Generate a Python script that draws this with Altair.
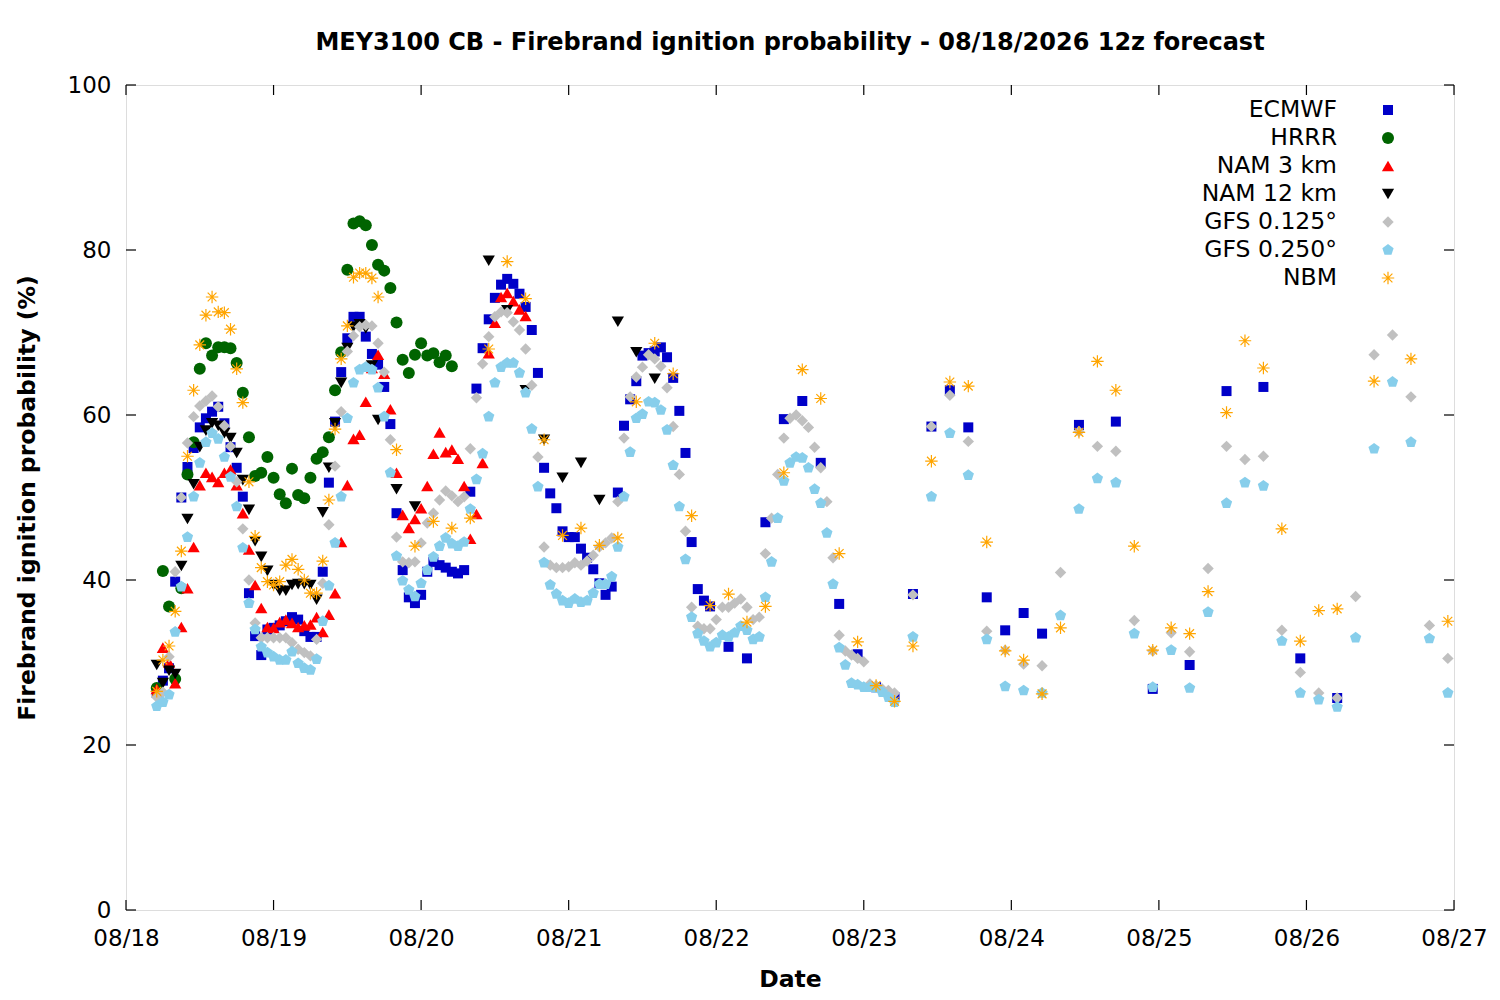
import json
import altair as alt
import pandas as pd

# ---------------- data ----------------
series_names = ["ECMWF", "HRRR", "NAM 3 km", "NAM 12 km", "GFS 0.125°", "GFS 0.250°", "NBM"]
day_labels = ["08/18", "08/19", "08/20", "08/21", "08/22", "08/23", "08/24", "08/25", "08/26", "08/27"]
x_tick_hours = [0, 24, 48, 72, 96, 120, 144, 168, 192, 216]
y_tick_values = [0, 20, 40, 60, 80, 100]

# hours after 08/18 00:00 (local)
ecmwf_hours = list(range(5, 96)) + list(range(98, 150, 3)) + list(range(155, 198, 6))
ecmwf_vals = [
    26.3, 27.8, 29.3, 39.8, 50.0, 53.7, 56.0, 58.5, 59.6, 60.4, 61.0, 59.0, 56.1, 53.6, 50.1,
    38.4, 33.2, 30.9, 34.0, 34.2, 34.5, 35.0, 35.5, 35.2, 33.8, 33.1, 33.1, 41.0, 51.8, 59.2,
    65.2, 69.3, 71.9, 71.9, 69.5, 67.4, 66.1, 63.4, 58.9, 48.1, 41.2, 37.9, 37.2, 38.2, 41.0,
    42.2, 41.8, 41.5, 41.0, 40.8, 41.2, 50.7, 63.2, 68.1, 71.6, 74.2, 75.8, 76.5, 75.9, 74.7,
    73.1, 70.3, 65.1, 53.6, 50.5, 48.7, 45.9, 45.2, 45.2, 43.8, 42.7, 41.3, 39.6, 38.2, 39.2,
    50.6, 58.7, 61.9, 64.1, 67.2, 67.5, 67.7, 68.2, 67.0, 64.5, 60.5, 55.4, 44.6, 38.9, 37.5,
    36.8,
    31.9, 30.5, 47.0, 59.5, 61.7, 54.2, 37.1, 31.0, 27.0, 25.8, 38.3, 58.6, 63.0, 58.5, 37.9,
    33.9, 36.0, 33.5,
    58.8, 59.2, 26.8, 29.7, 62.9, 63.4, 30.5, 25.7,
]

hrrr_hours = list(range(5, 54))
hrrr_vals = [
    26.9, 41.1, 36.8, 28.0, 39.0, 52.8, 56.7, 65.6, 68.7, 67.2, 68.2, 68.2, 68.1, 66.3, 62.7,
    57.3, 52.6, 53.0, 54.9, 52.4, 50.4, 49.3, 53.5, 50.3, 49.9, 52.4, 54.7, 55.5, 57.3, 63.0,
    67.6, 77.6, 83.2, 83.5, 83.0, 80.6, 78.2, 77.5, 75.4, 71.2, 66.7, 65.1, 67.3, 68.7, 67.2,
    67.5, 66.4, 67.2, 65.9,
]

nam3_hours = list(range(5, 66))
nam3_vals = [
    26.8, 31.8, 30.0, 27.5, 34.3, 39.0, 44.0, 51.5, 53.0, 52.5, 51.9, 53.0, 53.4, 51.5, 48.1,
    43.7, 39.4, 36.6, 34.3, 34.2, 34.9, 35.2, 34.8, 34.3, 34.5, 34.6, 35.5, 33.7, 35.8, 38.4,
    44.6, 51.5, 57.1, 57.6, 61.6, 65.7, 67.3, 65.0, 60.7, 53.0, 47.9, 46.3, 47.4, 48.7, 51.4,
    55.3, 57.9, 55.5, 55.8, 54.7, 51.4, 45.0, 48.0, 54.2, 67.5, 71.2, 74.3, 74.8, 73.8, 72.8,
    72.0,
]

nam12_hours = list(range(5, 42)) + [44, 47] + list(range(59, 87, 3))
nam12_vals = [
    29.7, 27.5, 29.0, 28.6, 41.7, 47.4, 51.6, 56.1, 58.1, 59.0, 58.7, 57.8, 57.2, 55.4, 52.1,
    48.5, 44.7, 42.8, 41.1, 39.4, 38.7, 38.7, 39.4, 39.5, 39.5, 39.4, 37.6, 48.2, 53.6, 59.0,
    63.9, 68.1, 70.7, 71.0, 70.5, 66.0, 59.4,
    51.0, 48.9,
    78.7, 72.7, 63.0, 57.0, 52.4, 54.2, 49.7, 71.3, 67.6, 64.4,
]

gfs125_hours = list(range(5, 126)) + list(range(128, 216, 3))
gfs125_vals = [
    25.8, 26.4, 30.7, 41.0, 50.0, 56.6, 59.8, 61.1, 61.7, 62.3, 61.0, 58.7, 56.2, 51.9, 46.2,
    40.0, 34.8, 33.0, 33.0, 33.0, 33.0, 33.0, 32.4, 31.6, 31.2, 30.8, 32.8, 39.6, 46.7, 53.8,
    60.4, 67.7, 69.6, 70.7, 70.9, 70.8, 68.7, 65.2, 57.0, 45.2, 42.2, 42.1, 42.2, 44.5, 46.9,
    48.1, 49.7, 50.8, 50.2, 49.5, 50.1, 55.9, 62.1, 66.2, 69.5, 71.9, 72.5, 72.4, 71.3, 70.3,
    68.0, 63.6, 54.9, 44.0, 41.8, 41.5, 41.5, 41.6, 42.1, 41.8, 42.3, 43.0, 44.0, 44.5, 45.1,
    49.5, 57.2, 62.2, 64.6, 65.8, 67.3, 66.8, 65.9, 63.3, 58.6, 52.8, 45.9, 36.7, 34.4, 34.1,
    34.1, 35.2, 36.7, 36.7, 37.2, 37.7, 36.7, 35.2, 35.5, 43.2, 47.5, 52.8, 57.2, 59.6, 60.0,
    59.3, 58.5, 56.1, 53.6, 49.5, 42.7, 33.3, 31.4, 30.9, 30.5, 30.1, 27.4, 27.2, 26.8, 26.6,
    26.3,
    38.2, 58.6, 62.4, 56.8, 33.8, 31.5, 29.8, 29.6, 40.9, 58.0, 56.2, 55.6, 35.1, 31.4, 33.6,
    31.3, 41.4, 56.2, 54.6, 55.0, 33.9, 28.8, 26.3, 25.7, 38.0, 67.3, 69.7, 62.2, 34.5, 30.5,
]

gfs250_hours = list(range(5, 126)) + list(range(128, 216, 3))
gfs250_vals = [
    24.7, 25.2, 26.1, 33.7, 39.2, 45.2, 50.1, 54.2, 56.7, 57.8, 57.1, 54.9, 52.5, 48.9, 43.9,
    37.2, 34.0, 31.9, 31.2, 30.7, 30.3, 30.3, 31.3, 29.9, 29.3, 29.1, 30.4, 35.0, 39.3, 44.5,
    50.1, 59.6, 63.9, 65.5, 65.8, 65.5, 63.3, 59.8, 53.0, 42.9, 39.9, 38.8, 38.0, 39.6, 41.2,
    42.8, 44.1, 45.1, 44.4, 44.1, 44.6, 48.6, 52.2, 55.3, 59.8, 63.9, 65.8, 66.3, 66.3, 65.1,
    62.7, 58.3, 51.3, 42.1, 39.4, 38.3, 37.5, 37.2, 37.7, 37.3, 37.5, 38.4, 39.5, 39.5, 40.4,
    44.0, 50.1, 55.5, 59.6, 60.1, 61.6, 61.5, 60.6, 58.2, 53.9, 48.9, 42.5, 35.5, 33.5, 32.6,
    31.9, 32.4, 33.3, 33.1, 33.6, 34.4, 33.9, 32.8, 33.1, 37.9, 42.2, 47.5, 52.0, 54.2, 54.9,
    54.8, 53.6, 51.0, 49.3, 45.7, 39.5, 31.8, 29.7, 27.5, 27.3, 27.0, 27.0, 26.9, 26.4, 25.8,
    25.2,
    33.1, 50.1, 57.8, 52.7, 32.8, 27.1, 26.6, 26.3, 35.7, 48.6, 52.3, 51.8, 33.5, 27.0, 31.5,
    26.9, 36.1, 49.3, 51.8, 51.4, 32.6, 26.3, 25.5, 24.6, 33.0, 55.9, 64.0, 56.7, 32.9, 26.3,
]

nbm_hours = list(range(5, 42)) + list(range(44, 198, 3)) + [203, 209, 215]
nbm_vals = [
    26.5, 30.3, 32.0, 36.2, 43.5, 55.0, 63.0, 68.5, 72.1, 74.3, 72.5, 72.4, 70.4, 65.6, 61.5,
    51.9, 45.3, 41.5, 39.8, 39.4, 39.8, 41.8, 42.5, 41.3, 40.0, 38.4, 38.4, 42.3, 49.7, 58.3,
    66.8, 70.8, 76.7, 77.2, 77.2, 76.6, 74.3,
    55.8, 44.1, 47.1, 46.3, 47.5, 68.0, 78.6, 74.1, 57.0, 45.4, 46.3, 44.2, 45.1, 61.6, 68.7,
    65.0, 47.8, 36.9, 38.3, 34.9, 36.8, 53.0, 65.5, 62.0, 43.2, 32.5, 27.2, 25.3, 32.0, 54.4,
    64.0, 63.5, 44.6, 31.4, 30.3, 26.2, 34.2, 57.9, 66.5, 63.0, 44.1, 31.5, 34.2, 33.5, 38.6,
    60.3, 69.0, 65.7, 46.2, 32.6, 36.3, 36.5,
    64.1, 66.8, 35.0,
]

# ---------------- styling ----------------
W, H = 1328, 825
FONT = "DejaVu Sans"
PENTAGON = "M0,-1L0.951,-0.309L0.588,0.809L-0.588,0.809L-0.951,-0.309Z"
STAR = "M-1,0L1,0M0,-1L0,1M-0.707,-0.707L0.707,0.707M-0.707,0.707L0.707,-0.707"

styles = [
    dict(shape="square", color="#0000c8", size=100, filled=True),
    dict(shape="circle", color="#006400", size=144, filled=True),
    dict(shape="triangle-up", color="#ff0000", size=150, filled=True),
    dict(shape="triangle-down", color="#000000", size=150, filled=True),
    dict(shape="diamond", color="#c0c0c0", size=130, filled=True),
    dict(shape=PENTAGON, color="#87ceeb", size=140, filled=True),
    dict(shape=STAR, color="#ffa500", size=155, filled=False),
]
series_data = [
    (ecmwf_hours, ecmwf_vals),
    (hrrr_hours, hrrr_vals),
    (nam3_hours, nam3_vals),
    (nam12_hours, nam12_vals),
    (gfs125_hours, gfs125_vals),
    (gfs250_hours, gfs250_vals),
    (nbm_hours, nbm_vals),
]

label_expr = json.dumps(day_labels) + "[round(datum.value / 24)]"
x_axis = alt.Axis(
    values=x_tick_hours, labelExpr=label_expr, ticks=False, tickSize=0, domain=False, grid=False,
    labelFont=FONT, labelFontSize=23, labelColor="black", labelPadding=17, labelFlush=False,
    labelOverlap=False, title="Date", titleFont=FONT, titleFontSize=23.5, titleFontWeight="bold",
    titleColor="black", titleBaseline="middle", titleY=69,
)
y_axis = alt.Axis(
    values=y_tick_values, ticks=False, tickSize=0, domain=False, grid=False,
    labelFont=FONT, labelFontSize=23, labelColor="black", labelPadding=15, labelFlush=False,
    title="Firebrand ignition probability (%)", titleFont=FONT, titleFontSize=23.5,
    titleFontWeight="bold", titleColor="black", titleBaseline="middle", titleX=-99,
)
x_enc = alt.X("h:Q", scale=alt.Scale(domain=[0, 216], nice=False, zero=False), axis=x_axis)
y_enc = alt.Y("v:Q", scale=alt.Scale(domain=[0, 100], nice=False), axis=y_axis)


def point_mark(chart, st):
    if st["filled"]:
        return chart.mark_point(shape=st["shape"], filled=True, color=st["color"],
                                size=st["size"], opacity=1, strokeWidth=0)
    return chart.mark_point(shape=st["shape"], filled=False, color=st["color"],
                            size=st["size"], opacity=1, strokeWidth=1.2)


layers = []
for (hrs, vals), st in zip(series_data, styles):
    df = pd.DataFrame({"h": hrs, "v": vals})
    layers.append(point_mark(alt.Chart(df), st).encode(x=x_enc, y=y_enc))

# inward ticks (gnuplot style, mirrored)
ydf = pd.DataFrame({"v": y_tick_values})
xdf = pd.DataFrame({"h": x_tick_hours})
TL = 10
layers.append(alt.Chart(ydf).mark_rule(color="black", strokeWidth=1.2).encode(
    y=y_enc, x=alt.value(0), x2=alt.value(TL)))
layers.append(alt.Chart(ydf).mark_rule(color="black", strokeWidth=1.2).encode(
    y=y_enc, x=alt.value(W - TL), x2=alt.value(W)))
layers.append(alt.Chart(xdf).mark_rule(color="black", strokeWidth=1.2).encode(
    x=x_enc, y=alt.value(H - TL), y2=alt.value(H)))
layers.append(alt.Chart(xdf).mark_rule(color="black", strokeWidth=1.2).encode(
    x=x_enc, y=alt.value(0), y2=alt.value(TL)))

# legend (label left, symbol right, as in gnuplot)
for i, (name, st) in enumerate(zip(series_names, styles)):
    ldf = pd.DataFrame({"name": [name]})
    ypix = 25 + 28 * i
    layers.append(alt.Chart(ldf).mark_text(
        align="right", baseline="middle", font=FONT, fontSize=23.5, color="black"
    ).encode(x=alt.value(1211), y=alt.value(ypix), text="name:N"))
    layers.append(point_mark(alt.Chart(ldf), st).encode(x=alt.value(1262), y=alt.value(ypix)))

chart = alt.layer(*layers).properties(
    width=W,
    height=H,
    title=alt.TitleParams(
        text="MEY3100 CB - Firebrand ignition probability - 08/18/2026 12z forecast",
        font=FONT, fontSize=24, fontWeight="bold", color="black", anchor="middle",
        baseline="alphabetic", offset=0,
    ),
    autosize=alt.AutoSizeParams(type="none"),
    padding={"left": 118, "top": 77, "right": 36, "bottom": 81},
).configure_view(stroke="black", strokeWidth=1.5).configure(background="white")

chart.save("out.html", embed_options={"renderer": "svg", "actions": False})
